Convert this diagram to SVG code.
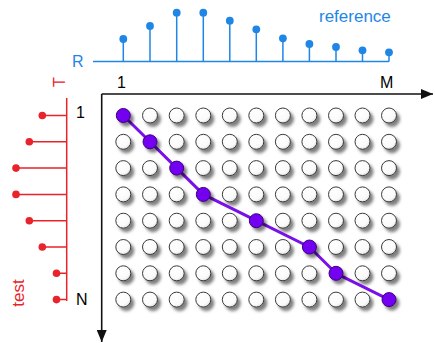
<svg xmlns="http://www.w3.org/2000/svg" width="435" height="343" viewBox="0 0 435 343">
<style>
.blue{fill:#1f86e6}
.bl{stroke:#1f86e6;stroke-width:1.5;fill:none}
.red{fill:#e8232b}
.rl{stroke:#e8232b;stroke-width:1.5;fill:none}
.lbl{font-family:"Liberation Sans",Arial,sans-serif;font-size:16px}
.blk{fill:#000}
.ax{stroke:#111;stroke-width:1.6;fill:none}
.c{fill:url(#g);stroke:#3a3a3a;stroke-width:1;filter:url(#sh)}
.p{fill:#7300f0;stroke:#3b007a;stroke-width:1;filter:url(#sh)}
</style>
<defs>
<radialGradient id="g" cx="0.4" cy="0.35" r="0.7">
<stop offset="0" stop-color="#ffffff"/>
<stop offset="0.7" stop-color="#fafafa"/>
<stop offset="1" stop-color="#d8d8d8"/>
</radialGradient>
<filter id="sh" x="-50%" y="-50%" width="220%" height="220%">
<feDropShadow dx="3" dy="3.5" stdDeviation="1.8" flood-color="#000" flood-opacity="0.5"/>
</filter>
<marker id="ah" viewBox="0 0 12 10" refX="12" refY="5" markerWidth="12" markerHeight="10" markerUnits="userSpaceOnUse" orient="auto">
<path d="M0,0 L12,5 L0,10 z" fill="#111"/>
</marker>
</defs>

<g id="reference-signal">
<text class="lbl blue" x="319" y="22" style="font-size:17px">reference</text>
<text class="lbl blue" x="72" y="67">R</text>
<path class="bl" d="M93,61.5H389 M123.3,61.5V39 M150,61.5V26 M176.7,61.5V12.7 M203.3,61.5V12.7 M229.8,61.5V20.7 M256.3,61.5V29.3 M282.9,61.5V38.3 M309.4,61.5V44 M336,61.5V47 M362.5,61.5V50.3 M389,61.5V52.3"/>
<g class="blue">
<circle cx="123.3" cy="39" r="3.9"/><circle cx="150" cy="26" r="3.9"/><circle cx="176.7" cy="12.7" r="3.9"/><circle cx="203.3" cy="12.7" r="3.9"/><circle cx="229.8" cy="20.7" r="3.9"/><circle cx="256.3" cy="29.3" r="3.9"/><circle cx="282.9" cy="38.3" r="3.9"/><circle cx="309.4" cy="44" r="3.9"/><circle cx="336" cy="47" r="3.9"/><circle cx="362.5" cy="50.3" r="3.9"/><circle cx="389" cy="52.3" r="3.9"/>
</g>
</g>

<g id="test-signal">
<text class="lbl red" transform="translate(65,82) rotate(-90)" text-anchor="middle">T</text>
<text class="lbl red" transform="translate(24,293) rotate(-90)" text-anchor="middle" style="font-size:17px">test</text>
<path class="rl" d="M66.7,98V301 M66.7,115.5H42.3 M66.7,141.8H29.3 M66.7,168.1H16 M66.7,194.4H16 M66.7,220.7H29.3 M66.7,247H42.3 M66.7,273.3H56.5 M66.7,299.6H56.5"/>
<g class="red">
<circle cx="42.3" cy="115.5" r="3.8"/><circle cx="29.3" cy="141.8" r="3.8"/><circle cx="16" cy="168.1" r="3.8"/><circle cx="16" cy="194.4" r="3.8"/><circle cx="29.3" cy="220.7" r="3.8"/><circle cx="42.3" cy="247" r="3.8"/><circle cx="56.5" cy="273.3" r="3.8"/><circle cx="56.5" cy="299.6" r="3.8"/>
</g>
</g>

<g id="axes">
<text class="lbl blk" x="117" y="88">1</text>
<text class="lbl blk" x="380" y="88">M</text>
<text class="lbl blk" x="76" y="118">1</text>
<text class="lbl blk" x="76" y="305">N</text>
<path class="ax" d="M101.7,94H433" marker-end="url(#ah)"/>
<path class="ax" d="M101.7,94V342" marker-end="url(#ah)"/>
</g>

<g id="grid">
<g id="row0"><circle class="c" cx="150" cy="115.5" r="7.5"/><circle class="c" cx="176.7" cy="115.5" r="7.5"/><circle class="c" cx="203.3" cy="115.5" r="7.5"/><circle class="c" cx="229.8" cy="115.5" r="7.5"/><circle class="c" cx="256.3" cy="115.5" r="7.5"/><circle class="c" cx="282.9" cy="115.5" r="7.5"/><circle class="c" cx="309.4" cy="115.5" r="7.5"/><circle class="c" cx="336" cy="115.5" r="7.5"/><circle class="c" cx="362.5" cy="115.5" r="7.5"/><circle class="c" cx="389" cy="115.5" r="7.5"/></g>
<g id="row1"><circle class="c" cx="123.3" cy="141.8" r="7.5"/><circle class="c" cx="176.7" cy="141.8" r="7.5"/><circle class="c" cx="203.3" cy="141.8" r="7.5"/><circle class="c" cx="229.8" cy="141.8" r="7.5"/><circle class="c" cx="256.3" cy="141.8" r="7.5"/><circle class="c" cx="282.9" cy="141.8" r="7.5"/><circle class="c" cx="309.4" cy="141.8" r="7.5"/><circle class="c" cx="336" cy="141.8" r="7.5"/><circle class="c" cx="362.5" cy="141.8" r="7.5"/><circle class="c" cx="389" cy="141.8" r="7.5"/></g>
<g id="row2"><circle class="c" cx="123.3" cy="168.1" r="7.5"/><circle class="c" cx="150" cy="168.1" r="7.5"/><circle class="c" cx="203.3" cy="168.1" r="7.5"/><circle class="c" cx="229.8" cy="168.1" r="7.5"/><circle class="c" cx="256.3" cy="168.1" r="7.5"/><circle class="c" cx="282.9" cy="168.1" r="7.5"/><circle class="c" cx="309.4" cy="168.1" r="7.5"/><circle class="c" cx="336" cy="168.1" r="7.5"/><circle class="c" cx="362.5" cy="168.1" r="7.5"/><circle class="c" cx="389" cy="168.1" r="7.5"/></g>
<g id="row3"><circle class="c" cx="123.3" cy="194.4" r="7.5"/><circle class="c" cx="150" cy="194.4" r="7.5"/><circle class="c" cx="176.7" cy="194.4" r="7.5"/><circle class="c" cx="229.8" cy="194.4" r="7.5"/><circle class="c" cx="256.3" cy="194.4" r="7.5"/><circle class="c" cx="282.9" cy="194.4" r="7.5"/><circle class="c" cx="309.4" cy="194.4" r="7.5"/><circle class="c" cx="336" cy="194.4" r="7.5"/><circle class="c" cx="362.5" cy="194.4" r="7.5"/><circle class="c" cx="389" cy="194.4" r="7.5"/></g>
<g id="row4"><circle class="c" cx="123.3" cy="220.7" r="7.5"/><circle class="c" cx="150" cy="220.7" r="7.5"/><circle class="c" cx="176.7" cy="220.7" r="7.5"/><circle class="c" cx="203.3" cy="220.7" r="7.5"/><circle class="c" cx="229.8" cy="220.7" r="7.5"/><circle class="c" cx="282.9" cy="220.7" r="7.5"/><circle class="c" cx="309.4" cy="220.7" r="7.5"/><circle class="c" cx="336" cy="220.7" r="7.5"/><circle class="c" cx="362.5" cy="220.7" r="7.5"/><circle class="c" cx="389" cy="220.7" r="7.5"/></g>
<g id="row5"><circle class="c" cx="123.3" cy="247" r="7.5"/><circle class="c" cx="150" cy="247" r="7.5"/><circle class="c" cx="176.7" cy="247" r="7.5"/><circle class="c" cx="203.3" cy="247" r="7.5"/><circle class="c" cx="229.8" cy="247" r="7.5"/><circle class="c" cx="256.3" cy="247" r="7.5"/><circle class="c" cx="282.9" cy="247" r="7.5"/><circle class="c" cx="336" cy="247" r="7.5"/><circle class="c" cx="362.5" cy="247" r="7.5"/><circle class="c" cx="389" cy="247" r="7.5"/></g>
<g id="row6"><circle class="c" cx="123.3" cy="273.3" r="7.5"/><circle class="c" cx="150" cy="273.3" r="7.5"/><circle class="c" cx="176.7" cy="273.3" r="7.5"/><circle class="c" cx="203.3" cy="273.3" r="7.5"/><circle class="c" cx="229.8" cy="273.3" r="7.5"/><circle class="c" cx="256.3" cy="273.3" r="7.5"/><circle class="c" cx="282.9" cy="273.3" r="7.5"/><circle class="c" cx="309.4" cy="273.3" r="7.5"/><circle class="c" cx="362.5" cy="273.3" r="7.5"/><circle class="c" cx="389" cy="273.3" r="7.5"/></g>
<g id="row7"><circle class="c" cx="123.3" cy="299.6" r="7.5"/><circle class="c" cx="150" cy="299.6" r="7.5"/><circle class="c" cx="176.7" cy="299.6" r="7.5"/><circle class="c" cx="203.3" cy="299.6" r="7.5"/><circle class="c" cx="229.8" cy="299.6" r="7.5"/><circle class="c" cx="256.3" cy="299.6" r="7.5"/><circle class="c" cx="282.9" cy="299.6" r="7.5"/><circle class="c" cx="309.4" cy="299.6" r="7.5"/><circle class="c" cx="336" cy="299.6" r="7.5"/><circle class="c" cx="362.5" cy="299.6" r="7.5"/></g>
</g>

<g id="connectors">
<polyline points="123.3,115.5 150,141.8 176.7,168.1 203.3,194.4 256.3,220.7 309.4,247 336,273.3 389,299.6" fill="none" stroke="#7a10e8" stroke-width="3" stroke-linejoin="round"/>
</g>

<g id="warping-path">
<circle class="p" cx="123.3" cy="115.5" r="7"/><circle class="p" cx="150" cy="141.8" r="7"/><circle class="p" cx="176.7" cy="168.1" r="7"/><circle class="p" cx="203.3" cy="194.4" r="7"/><circle class="p" cx="256.3" cy="220.7" r="7"/><circle class="p" cx="309.4" cy="247" r="7"/><circle class="p" cx="336" cy="273.3" r="7"/><circle class="p" cx="389" cy="299.6" r="7"/>
</g>
</svg>
